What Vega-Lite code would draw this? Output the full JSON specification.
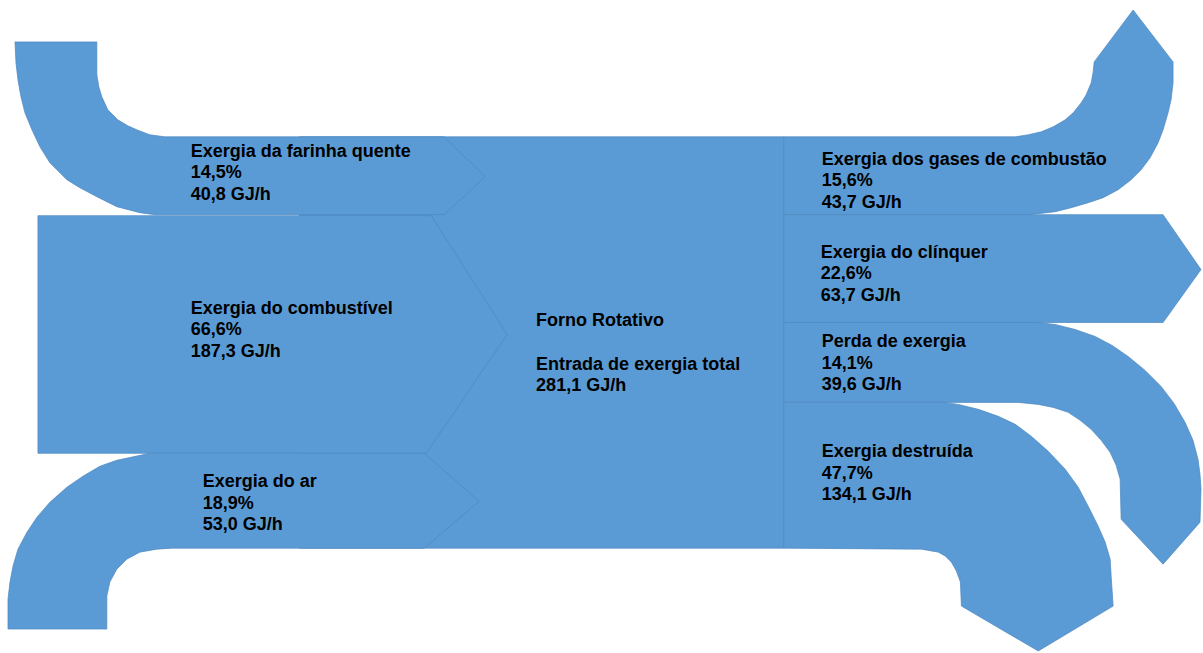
{
  "$schema": "https://vega.github.io/schema/vega-lite/v6.json",
  "width": 1203,
  "height": 653,
  "padding": 0,
  "autosize": {"type": "fit", "contains": "padding"},
  "background": "#ffffff",
  "config": {"view": {"stroke": null}},
  "datasets": {
    "center": [
      {"shape": "Forno Rotativo", "i": 1, "x": 300, "y": 137},
      {"shape": "Forno Rotativo", "i": 2, "x": 785, "y": 137},
      {"shape": "Forno Rotativo", "i": 3, "x": 785, "y": 549},
      {"shape": "Forno Rotativo", "i": 4, "x": 300, "y": 549}
    ],
    "flows": [
      {"shape": "farinha", "i": 1, "x": 15, "y": 42},
      {"shape": "farinha", "i": 2, "x": 97, "y": 42},
      {"shape": "farinha", "i": 3, "x": 97, "y": 75},
      {"shape": "farinha", "i": 4, "x": 99, "y": 87},
      {"shape": "farinha", "i": 5, "x": 102, "y": 97},
      {"shape": "farinha", "i": 6, "x": 108, "y": 110},
      {"shape": "farinha", "i": 7, "x": 118, "y": 120},
      {"shape": "farinha", "i": 8, "x": 128, "y": 126},
      {"shape": "farinha", "i": 9, "x": 137, "y": 130},
      {"shape": "farinha", "i": 10, "x": 150, "y": 135},
      {"shape": "farinha", "i": 11, "x": 165, "y": 137},
      {"shape": "farinha", "i": 12, "x": 445, "y": 137},
      {"shape": "farinha", "i": 13, "x": 486, "y": 177},
      {"shape": "farinha", "i": 14, "x": 445, "y": 215},
      {"shape": "farinha", "i": 15, "x": 155, "y": 215},
      {"shape": "farinha", "i": 16, "x": 140, "y": 213},
      {"shape": "farinha", "i": 17, "x": 117, "y": 207},
      {"shape": "farinha", "i": 18, "x": 97, "y": 197},
      {"shape": "farinha", "i": 19, "x": 80, "y": 188},
      {"shape": "farinha", "i": 20, "x": 67, "y": 180},
      {"shape": "farinha", "i": 21, "x": 57, "y": 170},
      {"shape": "farinha", "i": 22, "x": 50, "y": 163},
      {"shape": "farinha", "i": 23, "x": 40, "y": 147},
      {"shape": "farinha", "i": 24, "x": 32, "y": 130},
      {"shape": "farinha", "i": 25, "x": 25, "y": 113},
      {"shape": "farinha", "i": 26, "x": 21, "y": 97},
      {"shape": "farinha", "i": 27, "x": 18, "y": 80},
      {"shape": "farinha", "i": 28, "x": 16, "y": 63},

      {"shape": "combustivel", "i": 1, "x": 38, "y": 216},
      {"shape": "combustivel", "i": 2, "x": 432, "y": 216},
      {"shape": "combustivel", "i": 3, "x": 508, "y": 335},
      {"shape": "combustivel", "i": 4, "x": 427, "y": 454},
      {"shape": "combustivel", "i": 5, "x": 38, "y": 454},

      {"shape": "ar", "i": 1, "x": 8, "y": 630},
      {"shape": "ar", "i": 2, "x": 107, "y": 630},
      {"shape": "ar", "i": 3, "x": 107, "y": 597},
      {"shape": "ar", "i": 4, "x": 110, "y": 583},
      {"shape": "ar", "i": 5, "x": 117, "y": 570},
      {"shape": "ar", "i": 6, "x": 127, "y": 560},
      {"shape": "ar", "i": 7, "x": 140, "y": 553},
      {"shape": "ar", "i": 8, "x": 157, "y": 550},
      {"shape": "ar", "i": 9, "x": 173, "y": 549},
      {"shape": "ar", "i": 10, "x": 425, "y": 549},
      {"shape": "ar", "i": 11, "x": 480, "y": 502},
      {"shape": "ar", "i": 12, "x": 425, "y": 454},
      {"shape": "ar", "i": 13, "x": 150, "y": 454},
      {"shape": "ar", "i": 14, "x": 117, "y": 461},
      {"shape": "ar", "i": 15, "x": 100, "y": 467},
      {"shape": "ar", "i": 16, "x": 83, "y": 477},
      {"shape": "ar", "i": 17, "x": 67, "y": 488},
      {"shape": "ar", "i": 18, "x": 50, "y": 503},
      {"shape": "ar", "i": 19, "x": 37, "y": 518},
      {"shape": "ar", "i": 20, "x": 27, "y": 533},
      {"shape": "ar", "i": 21, "x": 18, "y": 550},
      {"shape": "ar", "i": 22, "x": 13, "y": 567},
      {"shape": "ar", "i": 23, "x": 10, "y": 583},
      {"shape": "ar", "i": 24, "x": 8, "y": 600},

      {"shape": "gases", "i": 1, "x": 785, "y": 137},
      {"shape": "gases", "i": 2, "x": 1017, "y": 137},
      {"shape": "gases", "i": 3, "x": 1030, "y": 135},
      {"shape": "gases", "i": 4, "x": 1043, "y": 132},
      {"shape": "gases", "i": 5, "x": 1055, "y": 127},
      {"shape": "gases", "i": 6, "x": 1067, "y": 120},
      {"shape": "gases", "i": 7, "x": 1075, "y": 113},
      {"shape": "gases", "i": 8, "x": 1083, "y": 103},
      {"shape": "gases", "i": 9, "x": 1088, "y": 95},
      {"shape": "gases", "i": 10, "x": 1093, "y": 83},
      {"shape": "gases", "i": 11, "x": 1095, "y": 72},
      {"shape": "gases", "i": 12, "x": 1096, "y": 62},
      {"shape": "gases", "i": 13, "x": 1135, "y": 10},
      {"shape": "gases", "i": 14, "x": 1175, "y": 62},
      {"shape": "gases", "i": 15, "x": 1175, "y": 83},
      {"shape": "gases", "i": 16, "x": 1173, "y": 100},
      {"shape": "gases", "i": 17, "x": 1170, "y": 113},
      {"shape": "gases", "i": 18, "x": 1165, "y": 130},
      {"shape": "gases", "i": 19, "x": 1160, "y": 143},
      {"shape": "gases", "i": 20, "x": 1152, "y": 158},
      {"shape": "gases", "i": 21, "x": 1143, "y": 170},
      {"shape": "gases", "i": 22, "x": 1133, "y": 180},
      {"shape": "gases", "i": 23, "x": 1120, "y": 190},
      {"shape": "gases", "i": 24, "x": 1105, "y": 198},
      {"shape": "gases", "i": 25, "x": 1090, "y": 203},
      {"shape": "gases", "i": 26, "x": 1073, "y": 208},
      {"shape": "gases", "i": 27, "x": 1057, "y": 212},
      {"shape": "gases", "i": 28, "x": 1040, "y": 214},
      {"shape": "gases", "i": 29, "x": 1030, "y": 215},
      {"shape": "gases", "i": 30, "x": 785, "y": 215},

      {"shape": "clinquer", "i": 1, "x": 785, "y": 215},
      {"shape": "clinquer", "i": 2, "x": 1165, "y": 215},
      {"shape": "clinquer", "i": 3, "x": 1203, "y": 270},
      {"shape": "clinquer", "i": 4, "x": 1165, "y": 323},
      {"shape": "clinquer", "i": 5, "x": 785, "y": 323},

      {"shape": "perda", "i": 1, "x": 785, "y": 323},
      {"shape": "perda", "i": 2, "x": 1040, "y": 323},
      {"shape": "perda", "i": 3, "x": 1057, "y": 325},
      {"shape": "perda", "i": 4, "x": 1077, "y": 330},
      {"shape": "perda", "i": 5, "x": 1097, "y": 337},
      {"shape": "perda", "i": 6, "x": 1114, "y": 346},
      {"shape": "perda", "i": 7, "x": 1130, "y": 357},
      {"shape": "perda", "i": 8, "x": 1147, "y": 371},
      {"shape": "perda", "i": 9, "x": 1163, "y": 387},
      {"shape": "perda", "i": 10, "x": 1176, "y": 404},
      {"shape": "perda", "i": 11, "x": 1187, "y": 423},
      {"shape": "perda", "i": 12, "x": 1195, "y": 441},
      {"shape": "perda", "i": 13, "x": 1200, "y": 460},
      {"shape": "perda", "i": 14, "x": 1202, "y": 475},
      {"shape": "perda", "i": 15, "x": 1203, "y": 490},
      {"shape": "perda", "i": 16, "x": 1202, "y": 523},
      {"shape": "perda", "i": 17, "x": 1165, "y": 565},
      {"shape": "perda", "i": 18, "x": 1123, "y": 520},
      {"shape": "perda", "i": 19, "x": 1122, "y": 480},
      {"shape": "perda", "i": 20, "x": 1118, "y": 466},
      {"shape": "perda", "i": 21, "x": 1112, "y": 453},
      {"shape": "perda", "i": 22, "x": 1103, "y": 441},
      {"shape": "perda", "i": 23, "x": 1093, "y": 430},
      {"shape": "perda", "i": 24, "x": 1082, "y": 421},
      {"shape": "perda", "i": 25, "x": 1070, "y": 413},
      {"shape": "perda", "i": 26, "x": 1055, "y": 408},
      {"shape": "perda", "i": 27, "x": 1040, "y": 405},
      {"shape": "perda", "i": 28, "x": 1020, "y": 403},
      {"shape": "perda", "i": 29, "x": 785, "y": 403},

      {"shape": "destruida", "i": 1, "x": 785, "y": 403},
      {"shape": "destruida", "i": 2, "x": 945, "y": 403},
      {"shape": "destruida", "i": 3, "x": 960, "y": 405},
      {"shape": "destruida", "i": 4, "x": 980, "y": 410},
      {"shape": "destruida", "i": 5, "x": 1000, "y": 417},
      {"shape": "destruida", "i": 6, "x": 1017, "y": 425},
      {"shape": "destruida", "i": 7, "x": 1033, "y": 437},
      {"shape": "destruida", "i": 8, "x": 1050, "y": 452},
      {"shape": "destruida", "i": 9, "x": 1067, "y": 470},
      {"shape": "destruida", "i": 10, "x": 1080, "y": 488},
      {"shape": "destruida", "i": 11, "x": 1090, "y": 507},
      {"shape": "destruida", "i": 12, "x": 1100, "y": 527},
      {"shape": "destruida", "i": 13, "x": 1107, "y": 543},
      {"shape": "destruida", "i": 14, "x": 1112, "y": 560},
      {"shape": "destruida", "i": 15, "x": 1113, "y": 577},
      {"shape": "destruida", "i": 16, "x": 1115, "y": 607},
      {"shape": "destruida", "i": 17, "x": 1040, "y": 652},
      {"shape": "destruida", "i": 18, "x": 963, "y": 607},
      {"shape": "destruida", "i": 19, "x": 962, "y": 583},
      {"shape": "destruida", "i": 20, "x": 958, "y": 572},
      {"shape": "destruida", "i": 21, "x": 953, "y": 563},
      {"shape": "destruida", "i": 22, "x": 947, "y": 557},
      {"shape": "destruida", "i": 23, "x": 940, "y": 553},
      {"shape": "destruida", "i": 24, "x": 923, "y": 550},
      {"shape": "destruida", "i": 25, "x": 785, "y": 549}
    ],
    "labels": [
      {"label": "Exergia da farinha quente\n14,5%\n40,8 GJ/h", "x": 191, "y": 157},
      {"label": "Exergia do combustível\n66,6%\n187,3 GJ/h", "x": 191, "y": 314},
      {"label": "Exergia do ar\n18,9%\n53,0 GJ/h", "x": 203, "y": 488},
      {"label": "Forno Rotativo", "x": 537, "y": 327},
      {"label": "Entrada de exergia total\n281,1 GJ/h", "x": 537, "y": 370.5},
      {"label": "Exergia dos gases de combustão\n15,6%\n43,7 GJ/h", "x": 823, "y": 165},
      {"label": "Exergia do clínquer\n22,6%\n63,7 GJ/h", "x": 822, "y": 258},
      {"label": "Perda de exergia\n14,1%\n39,6 GJ/h", "x": 823, "y": 348},
      {"label": "Exergia destruída\n47,7%\n134,1 GJ/h", "x": 823, "y": 458}
    ]
  },
  "layer": [
    {
      "data": {"name": "center"},
      "mark": {"type": "line", "filled": true, "fill": "#5b9bd5", "stroke": "#4d87c0", "strokeWidth": 1, "strokeOpacity": 0.7, "interpolate": "linear-closed"},
      "encoding": {
        "x": {"field": "x", "type": "quantitative", "scale": {"domain": [0, 1203], "nice": false, "zero": false}, "axis": null},
        "y": {"field": "y", "type": "quantitative", "scale": {"domain": [0, 653], "nice": false, "zero": false, "reverse": true}, "axis": null},
        "detail": {"field": "shape"},
        "order": {"field": "i", "type": "quantitative"}
      }
    },
    {
      "data": {"name": "flows"},
      "mark": {"type": "line", "filled": true, "fill": "#5b9bd5", "stroke": "#4d87c0", "strokeWidth": 1, "strokeOpacity": 0.7, "interpolate": "linear-closed"},
      "encoding": {
        "x": {"field": "x", "type": "quantitative"},
        "y": {"field": "y", "type": "quantitative"},
        "detail": {"field": "shape"},
        "order": {"field": "i", "type": "quantitative"}
      }
    },
    {
      "data": {"name": "labels"},
      "mark": {"type": "text", "align": "left", "baseline": "alphabetic", "lineBreak": "\n", "lineHeight": 21.5, "font": "Liberation Sans", "fontWeight": "bold", "fontSize": 18, "color": "#000000"},
      "encoding": {
        "x": {"field": "x", "type": "quantitative"},
        "y": {"field": "y", "type": "quantitative"},
        "text": {"field": "label"}
      }
    }
  ]
}
